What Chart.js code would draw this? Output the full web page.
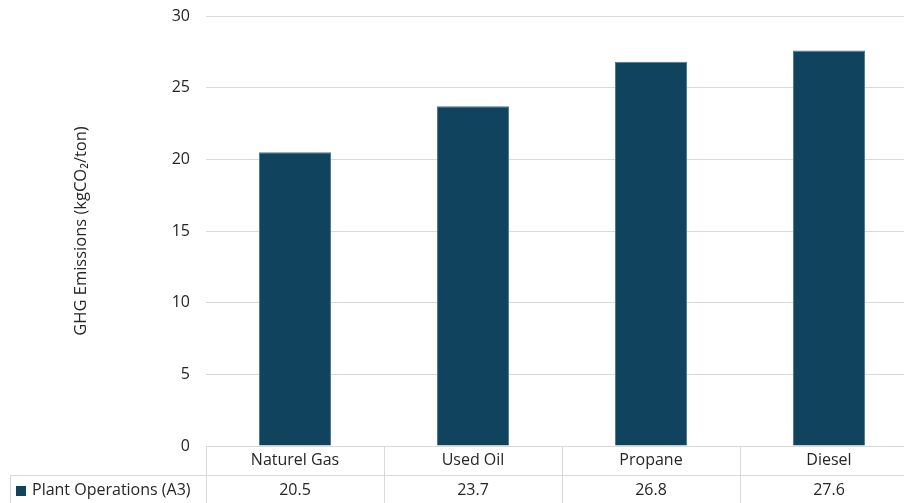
<!DOCTYPE html>
<html>
<head>
<meta charset="utf-8">
<script src="https://cdn.jsdelivr.net/npm/chart.js@4.4.1/dist/chart.umd.min.js"></script>
<style>
  html, body { margin: 0; padding: 0; background: #fff; overflow: hidden; width: 904px; height: 503px; }
  #wrap { width: 920px; height: 503px; position: relative; }
</style>
</head>
<body>
<div id="wrap"><canvas id="c" width="920" height="503"></canvas></div>
<script>
const categories = ['Naturel Gas', 'Used Oil', 'Propane', 'Diesel'];
const seriesName = 'Plant Operations (A3)';
const plantOperations = [20.5, 23.7, 26.8, 27.6];
const yTicks = [0, 5, 10, 15, 20, 25, 30];
const yTitle = 'GHG Emissions (kgCO\u2082/ton)';

const FONT = '"Open Sans", Lato, sans-serif';
const FSIZE = 16;
const TEXT = '#262626';
const GRID = '#d9d9d9';
const BAR = '#0F435E';

const dataTable = {
  id: 'dataTable',
  afterDraw(chart) {
    const ctx = chart.ctx;
    const xs = chart.scales.x;
    const area = chart.chartArea;
    const n = categories.length;
    const w = (area.right - area.left) / n;
    const top = area.bottom;
    const mid = 475.5;
    const bottom = chart.height;
    ctx.save();
    ctx.strokeStyle = GRID;
    ctx.lineWidth = 1;
    ctx.beginPath();
    ctx.moveTo(area.left, Math.round(top) + 0.5);
    ctx.lineTo(area.right, Math.round(top) + 0.5);
    ctx.moveTo(10, mid);
    ctx.lineTo(area.right, mid);
    ctx.moveTo(10.5, mid);
    ctx.lineTo(10.5, bottom);
    for (let i = 0; i <= n; i++) {
      const x = Math.round(area.left + i * w) + 0.5;
      ctx.moveTo(x, top);
      ctx.lineTo(x, bottom);
    }
    ctx.stroke();
    ctx.fillStyle = BAR;
    ctx.fillRect(16, 486, 10, 10);
    ctx.fillStyle = TEXT;
    ctx.font = FSIZE + 'px ' + FONT;
    ctx.textBaseline = 'middle';
    ctx.textAlign = 'left';
    ctx.fillText(seriesName, 32, 490);
    ctx.textAlign = 'center';
    plantOperations.forEach((v, i) => {
      ctx.fillText(v.toFixed(1), xs.getPixelForValue(i), 490);
    });
    ctx.restore();
  }
};

new Chart(document.getElementById('c'), {
  type: 'bar',
  data: {
    labels: categories,
    datasets: [{
      label: seriesName,
      data: plantOperations,
      backgroundColor: BAR,
      borderColor: '#4d7890',
      borderWidth: 1,
      categoryPercentage: 1.0,
      barPercentage: 0.405
    }]
  },
  options: {
    responsive: false,
    animation: false,
    layout: { padding: { left: 0, right: 2, top: 16, bottom: 0 } },
    plugins: {
      legend: { display: false },
      tooltip: { enabled: false }
    },
    scales: {
      x: {
        grid: { display: false, drawTicks: false },
        border: { display: false },
        ticks: { color: TEXT, font: { family: FONT, size: FSIZE }, padding: 5, maxRotation: 0 },
        afterFit(s) { s.height = 57; s.paddingLeft = 0; s.paddingRight = 0; }
      },
      y: {
        min: 0, max: 30,
        afterBuildTicks(s) { s.ticks = yTicks.map(v => ({ value: v })); },
        grid: { color: GRID, drawTicks: false },
        border: { display: false },
        ticks: { color: TEXT, font: { family: FONT, size: FSIZE }, padding: 16 },
        title: {
          display: true, text: yTitle, color: TEXT,
          font: { family: FONT, size: 16.5 },
          padding: { top: 71, bottom: 0 }
        },
        afterFit(s) { s.width = 206; s.paddingTop = 0; s.paddingBottom = 0; }
      }
    }
  },
  plugins: [dataTable]
});
</script>
</body>
</html>
